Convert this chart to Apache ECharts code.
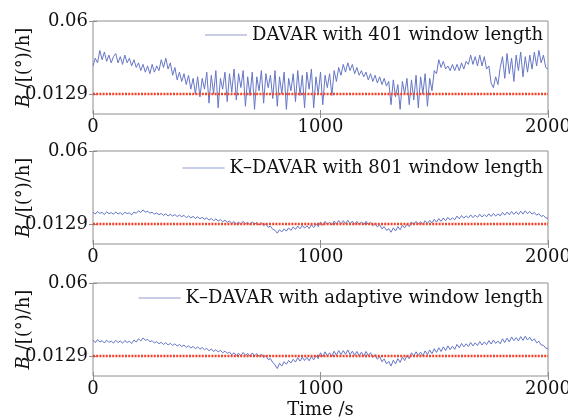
<!DOCTYPE html>
<html lang="en">
<head>
    <meta charset="UTF-8">
    <title>DAVAR bias</title>
    <script src="https://cdn.jsdelivr.net/npm/echarts@6/dist/echarts.min.js"></script>
</head>
<body style="margin:0;background:#fff;">
<div id="main" style="width:568px;height:418px;"></div>
<script type="text/javascript">
    // all three curves sampled every 10 s
    var step = 10;
    var biasRef = 0.0129;
    var yTicks = [0.0129, 0.06];

    var names = [
        'DAVAR with 401 window length',
        'K\u2013DAVAR with 801 window length',
        'K\u2013DAVAR with adaptive window length'
    ];

    var davar401 = [
        0.031,0.036,0.033,0.041,0.035,0.040,0.034,0.038,0.033,0.037,
        0.039,0.033,0.037,0.032,0.038,0.033,0.036,0.031,0.035,0.030,
        0.033,0.028,0.032,0.027,0.031,0.026,0.032,0.027,0.031,0.028,
        0.035,0.030,0.036,0.029,0.033,0.025,0.030,0.022,0.027,0.021,
        0.026,0.019,0.025,0.016,0.023,0.013,0.024,0.011,0.023,0.016,
        0.027,0.007,0.025,0.013,0.028,0.004,0.023,0.016,0.027,0.008,
        0.026,0.014,0.029,0.009,0.026,0.017,0.028,0.005,0.024,0.012,
        0.027,0.003,0.024,0.015,0.028,0.007,0.026,0.017,0.025,0.010,
        0.028,0.005,0.024,0.013,0.027,0.003,0.023,0.015,0.026,0.008,
        0.028,0.012,0.025,0.004,0.027,0.016,0.029,0.004,0.024,0.013,
        0.027,0.006,0.025,0.017,0.026,0.012,0.028,0.021,0.030,0.025,
        0.032,0.027,0.033,0.028,0.032,0.026,0.030,0.025,0.028,0.024,
        0.027,0.022,0.026,0.021,0.025,0.020,0.024,0.019,0.023,0.018,
        0.021,0.006,0.022,0.011,0.019,0.003,0.021,0.013,0.023,0.006,
        0.022,0.009,0.025,0.004,0.024,0.013,0.026,0.005,0.023,0.015,
        0.028,0.026,0.035,0.030,0.034,0.029,0.031,0.028,0.032,0.028,
        0.032,0.028,0.033,0.029,0.034,0.032,0.038,0.032,0.037,0.031,
        0.038,0.031,0.037,0.029,0.031,0.020,0.017,0.024,0.019,0.030,
        0.037,0.023,0.039,0.026,0.036,0.021,0.038,0.028,0.040,0.024,
        0.037,0.027,0.038,0.029,0.040,0.031,0.041,0.033,0.038,0.030,
        0.029
    ];

    var kdavar801 = [
        0.0206,0.0193,0.0210,0.0197,0.0204,0.0190,0.0208,0.0195,0.0203,0.0192,
        0.0207,0.0194,0.0202,0.0189,0.0205,0.0196,0.0201,0.0188,0.0206,0.0198,
        0.0214,0.0203,0.0220,0.0206,0.0211,0.0199,0.0205,0.0193,0.0200,0.0189,
        0.0197,0.0184,0.0195,0.0181,0.0192,0.0180,0.0190,0.0177,0.0187,0.0176,
        0.0185,0.0170,0.0181,0.0168,0.0178,0.0165,0.0176,0.0163,0.0172,0.0160,
        0.0168,0.0154,0.0165,0.0150,0.0162,0.0148,0.0158,0.0144,0.0153,0.0140,
        0.0148,0.0132,0.0145,0.0128,0.0142,0.0126,0.0146,0.0130,0.0140,0.0125,
        0.0143,0.0127,0.0140,0.0122,0.0138,0.0119,0.0130,0.0108,0.0115,0.0095,
        0.0088,0.0070,0.0092,0.0078,0.0098,0.0083,0.0104,0.0088,0.0110,0.0094,
        0.0116,0.0098,0.0120,0.0102,0.0118,0.0100,0.0124,0.0106,0.0128,0.0112,
        0.0142,0.0120,0.0146,0.0126,0.0140,0.0122,0.0148,0.0128,0.0151,0.0130,
        0.0150,0.0132,0.0153,0.0130,0.0148,0.0127,0.0146,0.0125,0.0143,0.0124,
        0.0147,0.0126,0.0140,0.0118,0.0132,0.0110,0.0124,0.0098,0.0112,0.0088,
        0.0098,0.0076,0.0104,0.0084,0.0112,0.0092,0.0120,0.0104,0.0128,0.0112,
        0.0142,0.0124,0.0146,0.0128,0.0144,0.0126,0.0150,0.0132,0.0153,0.0136,
        0.0160,0.0141,0.0164,0.0146,0.0168,0.0150,0.0172,0.0154,0.0170,0.0156,
        0.0180,0.0162,0.0184,0.0166,0.0182,0.0168,0.0188,0.0170,0.0186,0.0172,
        0.0192,0.0174,0.0190,0.0176,0.0195,0.0178,0.0197,0.0180,0.0194,0.0182,
        0.0204,0.0186,0.0206,0.0188,0.0210,0.0191,0.0208,0.0190,0.0212,0.0193,
        0.0214,0.0195,0.0210,0.0192,0.0204,0.0186,0.0196,0.0178,0.0184,0.0168,
        0.0165
    ];

    var kdavarAdapt = [
        0.0232,0.0216,0.0235,0.0219,0.0228,0.0213,0.0231,0.0217,0.0226,0.0212,
        0.0230,0.0215,0.0227,0.0211,0.0229,0.0216,0.0224,0.0210,0.0232,0.0219,
        0.0240,0.0226,0.0246,0.0230,0.0236,0.0221,0.0228,0.0213,0.0222,0.0208,
        0.0218,0.0203,0.0215,0.0200,0.0211,0.0197,0.0208,0.0193,0.0204,0.0190,
        0.0200,0.0184,0.0195,0.0180,0.0191,0.0176,0.0188,0.0173,0.0184,0.0170,
        0.0178,0.0162,0.0175,0.0158,0.0170,0.0155,0.0166,0.0150,0.0160,0.0146,
        0.0154,0.0136,0.0150,0.0132,0.0147,0.0130,0.0152,0.0134,0.0145,0.0128,
        0.0149,0.0130,0.0145,0.0125,0.0141,0.0120,0.0132,0.0106,0.0112,0.0088,
        0.0072,0.0048,0.0082,0.0064,0.0092,0.0076,0.0100,0.0084,0.0108,0.0090,
        0.0118,0.0096,0.0122,0.0100,0.0120,0.0098,0.0126,0.0104,0.0132,0.0112,
        0.0150,0.0124,0.0156,0.0130,0.0150,0.0126,0.0160,0.0134,0.0164,0.0138,
        0.0164,0.0140,0.0168,0.0138,0.0160,0.0134,0.0158,0.0130,0.0154,0.0128,
        0.0158,0.0132,0.0150,0.0120,0.0138,0.0108,0.0126,0.0092,0.0110,0.0078,
        0.0094,0.0064,0.0102,0.0078,0.0112,0.0088,0.0122,0.0100,0.0132,0.0112,
        0.0150,0.0128,0.0156,0.0132,0.0154,0.0130,0.0162,0.0138,0.0168,0.0144,
        0.0176,0.0152,0.0182,0.0158,0.0188,0.0164,0.0194,0.0170,0.0192,0.0172,
        0.0204,0.0182,0.0210,0.0188,0.0208,0.0190,0.0216,0.0194,0.0214,0.0196,
        0.0222,0.0200,0.0220,0.0202,0.0228,0.0206,0.0232,0.0210,0.0226,0.0208,
        0.0240,0.0216,0.0244,0.0220,0.0252,0.0228,0.0248,0.0226,0.0254,0.0230,
        0.0256,0.0232,0.0250,0.0226,0.0240,0.0214,0.0224,0.0200,0.0198,0.0180,
        0.0175
    ];

    var curves = [davar401, kdavar801, kdavarAdapt];
    var gridTops = [21, 151, 283];
    var legendTops = [21, 154, 284];
    var gridH = 93;

    var font = 'DejaVu Serif';
    var boxColor = '#8e8e8e';
    var blue = '#6676c6';

    function pairs(arr) {
        return arr.map(function (v, i) { return [i * step, v]; });
    }

    var grids = [], xAxes = [], yAxes = [], series = [], legends = [];
    for (var i = 0; i < 3; i++) {
        grids.push({
            left: 93, right: 20, top: gridTops[i], height: gridH,
            outerBoundsMode: 'none',
            show: true, borderColor: boxColor, borderWidth: 1
        });
        xAxes.push({
            type: 'value', gridIndex: i, min: 0, max: 2000, interval: 1000,
            axisLine: {show: false},
            axisTick: {inside: true, length: 4, lineStyle: {color: boxColor}},
            axisLabel: {
                color: '#111', fontFamily: font, fontSize: 18, margin: 4,
                formatter: function (v) { return String(v); }
            },
            splitLine: {show: false},
            name: i === 2 ? 'Time /s' : '',
            nameLocation: 'middle', nameGap: 25, nameMoveOverlap: false,
            nameTextStyle: {color: '#111', fontFamily: font, fontSize: 18}
        });
        xAxes.push({
            type: 'value', gridIndex: i, position: 'top', min: 0, max: 2000, interval: 1000,
            axisLine: {show: false},
            axisTick: {inside: true, length: 4, lineStyle: {color: boxColor}},
            axisLabel: {show: false}, splitLine: {show: false}
        });
        yAxes.push({
            type: 'value', gridIndex: i, min: 0, max: 0.06,
            axisLine: {show: false},
            axisTick: {inside: true, length: 4, customValues: yTicks, lineStyle: {color: boxColor}},
            axisLabel: {customValues: yTicks, color: '#111', fontFamily: font, fontSize: 18, margin: 5},
            splitLine: {show: false},
            name: '{i|B} /[(°)/h]',
            nameLocation: 'middle', nameRotate: 90, nameGap: 60, nameMoveOverlap: false,
            nameTextStyle: {
                color: '#111', fontFamily: font, fontSize: 18,
                rich: {i: {fontStyle: 'italic', fontFamily: font, fontSize: 18, color: '#111'}}
            }
        });
        yAxes.push({
            type: 'value', gridIndex: i, position: 'right', min: 0, max: 0.06,
            axisLine: {show: false},
            axisTick: {inside: true, length: 4, customValues: yTicks, lineStyle: {color: boxColor}},
            axisLabel: {show: false}, splitLine: {show: false}
        });
        series.push({
            name: names[i], type: 'line', xAxisIndex: 2 * i, yAxisIndex: 2 * i,
            data: pairs(curves[i]),
            symbol: 'none', lineStyle: {color: blue, width: 1},
            itemStyle: {color: blue}, z: 2
        });
        series.push({
            name: 'ref' + i, type: 'line', xAxisIndex: 2 * i, yAxisIndex: 2 * i,
            data: [[0, biasRef], [2000, biasRef]],
            symbol: 'none', lineStyle: {color: '#f2432a', width: 2.6, type: [2, 1.2]},
            z: 3
        });
        legends.push({
            data: [names[i]], right: 20, top: legendTops[i],
            icon: 'rect', itemWidth: 42, itemHeight: 1, itemGap: 5,
            itemStyle: {color: '#8f9ad4'},
            textStyle: {color: '#111', fontFamily: font, fontSize: 18}
        });
    }

    var C = echarts.init(document.getElementById('main'));
    C.setOption({
        animation: false,
        backgroundColor: '#fff',
        grid: grids,
        xAxis: xAxes,
        yAxis: yAxes,
        legend: legends,
        series: series
    });
</script>
</body>
</html>
